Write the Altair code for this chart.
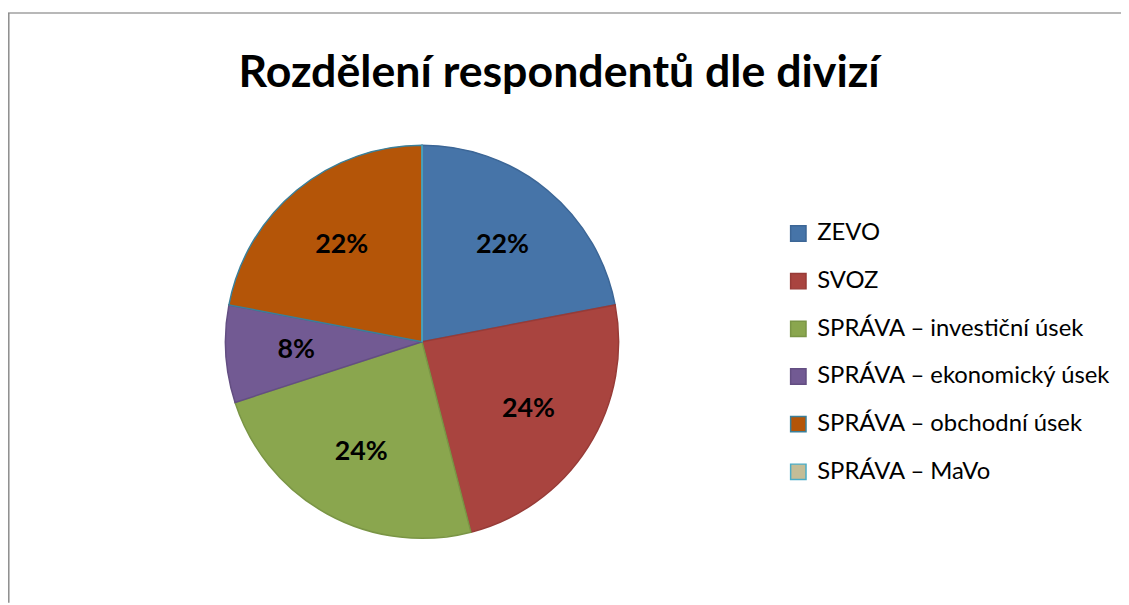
import altair as alt
import pandas as pd

chart_title = "Rozdělení respondentů dle divizí"
divisions = [
    "ZEVO",
    "SVOZ",
    "SPRÁVA – investiční úsek",
    "SPRÁVA – ekonomický úsek",
    "SPRÁVA – obchodní úsek",
    "SPRÁVA – MaVo",
]
shares = [22, 24, 24, 8, 22, 0]
fills = ["#4674A8", "#A9443F", "#8AA64E", "#725A93", "#B45508", "#C4BD97"]
strokes = ["#3C6696", "#973B37", "#7A9545", "#634E82", "#3A7F99", "#4BACC6"]

df = pd.DataFrame({
    "division": divisions,
    "share": shares,
    "order": list(range(len(divisions))),
    "label": [f"{v}%" for v in shares],
})

W, H = 1121, 597
cx, cy = 417, 334
R = 198

base = alt.Chart(df).encode(
    theta=alt.Theta("share:Q", stack=True),
    order=alt.Order("order:Q"),
)

pie = base.mark_arc(radius=R, strokeWidth=1.5).encode(
    fill=alt.Fill(
        "division:N",
        scale=alt.Scale(domain=divisions, range=fills),
        legend=alt.Legend(
            title=None,
            orient="none",
            legendX=784,
            legendY=213,
            symbolType="square",
            symbolSize=240,
            symbolStrokeWidth=1.5,
            labelFont="Lato",
            labelFontSize=24,
            labelColor="black",
            labelOffset=7,
            rowPadding=24,
            labelLimit=400,
        ),
    ),
    stroke=alt.Stroke("division:N", scale=alt.Scale(domain=divisions, range=strokes)),
    x=alt.value(cx),
    y=alt.value(cy),
)

labels = base.mark_text(
    radius=127, font="Lato", fontSize=27, fontWeight="bold", color="black"
).encode(
    text="label:N",
    x=alt.value(cx),
    y=alt.value(cy),
).transform_filter("datum.share > 0")

title = alt.Chart(pd.DataFrame({"t": [chart_title]})).mark_text(
    font="Lato", fontSize=45, fontWeight="bold", color="black", baseline="alphabetic"
).encode(text="t:N", x=alt.value(555), y=alt.value(77))

border_top = alt.Chart(pd.DataFrame({"a": [0]})).mark_rule(color="#A0A0A0", strokeWidth=1.5).encode(
    x=alt.value(0), x2=alt.value(W), y=alt.value(3)
)
border_left = alt.Chart(pd.DataFrame({"a": [0]})).mark_rule(color="#8C8C8C", strokeWidth=1.5).encode(
    x=alt.value(0.8), y=alt.value(3), y2=alt.value(H)
)

chart = alt.layer(border_top, border_left, pie, labels, title).properties(
    width=W, height=H, autosize=alt.AutoSizeParams(type="none"), padding=0,
    background="white",
).configure_view(stroke=None)

chart.save("out.html", embed_options={"renderer": "svg", "actions": False})
